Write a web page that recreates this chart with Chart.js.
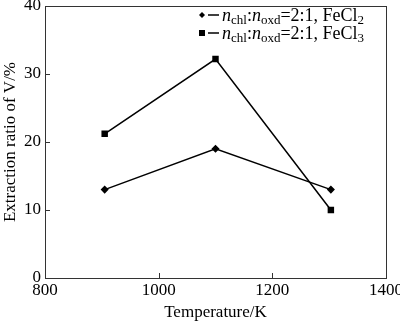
<!DOCTYPE html>
<html>
<head>
<meta charset="utf-8">
<script src="https://cdn.jsdelivr.net/npm/chart.js@4/dist/chart.umd.min.js"></script>
<style>
  html, body { margin: 0; padding: 0; background: #fff; }
  #wrap { width: 400px; height: 323px; }
</style>
</head>
<body>
<div id="wrap"><canvas id="chart"></canvas></div>
<script>
const temperatures = [905, 1100, 1303];
const fecl2Values = [13, 19, 13];
const fecl3Values = [21.2, 32.2, 10];
const xTicks = [800, 1000, 1200, 1400];
const yTicks = [0, 10, 20, 30, 40];
const seriesNames = ['FeCl2', 'FeCl3'];
const subNums = ['2', '3'];

const serif = '"Liberation Serif", "DejaVu Serif", serif';

// frame + inward ticks
const framePlugin = {
    id: 'frame',
    afterDraw (chart) {
        const ctx = chart.ctx;
        const a = chart.chartArea;
        ctx.save();
        ctx.strokeStyle = '#333';
        ctx.lineWidth = 1;
        ctx.strokeRect(a.left + 0.5, a.top + 0.5, a.right - a.left, a.bottom - a.top);
        ctx.beginPath();
        xTicks.forEach(v => {
            const x = Math.round(chart.scales.x.getPixelForValue(v)) + 0.5;
            ctx.moveTo(x, a.bottom);
            ctx.lineTo(x, a.bottom - 5);
        });
        yTicks.forEach(v => {
            const y = Math.round(chart.scales.y.getPixelForValue(v)) + 0.5;
            ctx.moveTo(a.left, y);
            ctx.lineTo(a.left + 5, y);
        });
        ctx.stroke();
        ctx.restore();
    }
};

// legend with subscripts
const legendPlugin = {
    id: 'subLegend',
    afterDraw (chart) {
        const ctx = chart.ctx;
        ctx.save();
        ctx.fillStyle = '#000';
        ctx.strokeStyle = '#000';
        ctx.textBaseline = 'alphabetic';
        seriesNames.forEach((name, i) => {
            const y = 21 + i * 18;
            const mx = 202;
            // marker
            if (i === 0) {
                ctx.beginPath();
                ctx.moveTo(mx, y - 9);
                ctx.lineTo(mx + 3, y - 6);
                ctx.lineTo(mx, y - 3);
                ctx.lineTo(mx - 3, y - 6);
                ctx.closePath();
                ctx.fill();
            } else {
                ctx.fillRect(mx - 3, y - 9, 6, 6);
            }
            ctx.lineWidth = 1.5;
            ctx.beginPath();
            ctx.moveTo(mx + 6, y - 6);
            ctx.lineTo(mx + 17, y - 6);
            ctx.stroke();

            let x = mx + 20;
            const put = (txt, font, dy) => {
                ctx.font = font;
                ctx.fillText(txt, x, y + dy);
                x += ctx.measureText(txt).width;
            };
            put('n', 'italic 18px ' + serif, 0);
            put('chl', '13px ' + serif, 3);
            put(':', '18px ' + serif, 0);
            put('n', 'italic 18px ' + serif, 0);
            put('oxd', '13px ' + serif, 3);
            put('=2:1, FeCl', '18px ' + serif, 0);
            put(subNums[i], '13px ' + serif, 3);
        });
        ctx.restore();
    }
};

const chart = new Chart(document.getElementById('chart').getContext('2d'), {
    type: 'line',
    data: {
        datasets: [{
            label: seriesNames[0],
            data: temperatures.map((t, i) => ({ x: t, y: fecl2Values[i] })),
            borderColor: '#000',
            backgroundColor: '#000',
            borderWidth: 1.5,
            pointStyle: 'rectRot',
            pointRadius: 3,
            tension: 0
        }, {
            label: seriesNames[1],
            data: temperatures.map((t, i) => ({ x: t, y: fecl3Values[i] })),
            borderColor: '#000',
            backgroundColor: '#000',
            borderWidth: 1.5,
            pointStyle: 'rect',
            pointRadius: 3.5,
            tension: 0
        }]
    },
    options: {
        responsive: true,
        maintainAspectRatio: false,
        animation: false,
        layout: { padding: { top: 6, right: 14, left: 0, bottom: 0 } },
        plugins: {
            legend: { display: false },
            tooltip: { enabled: false }
        },
        scales: {
            x: {
                type: 'linear',
                min: 800,
                max: 1400,
                afterBuildTicks: (scale) => { scale.ticks = xTicks.map(v => ({ value: v })); },
                grid: { display: false, tickLength: 0 },
                border: { display: false },
                ticks: { color: '#000', font: { family: serif, size: 17 }, padding: 2, maxRotation: 0, callback: v => String(v) },
                title: { display: true, text: 'Temperature/K', color: '#000', font: { family: serif, size: 17 }, padding: { top: -4, bottom: 0 } },
                afterFit: (scale) => {
                    scale.height = 45;
                    scale.paddingLeft = 0;
                    scale.paddingRight = 0;
                }
            },
            y: {
                min: 0,
                max: 40,
                afterBuildTicks: (scale) => { scale.ticks = yTicks.map(v => ({ value: v })); },
                grid: { display: false, tickLength: 0 },
                border: { display: false },
                ticks: { color: '#000', font: { family: serif, size: 17 }, padding: 4 },
                title: { display: true, text: 'Extraction ratio of V/%', color: '#000', font: { family: serif, size: 17 }, padding: { top: 0, bottom: 0 } },
                afterFit: (scale) => {
                    scale.width = 45;
                    scale.paddingTop = 0;
                    scale.paddingBottom = 0;
                }
            }
        }
    },
    plugins: [framePlugin, legendPlugin]
});
</script>
</body>
</html>
